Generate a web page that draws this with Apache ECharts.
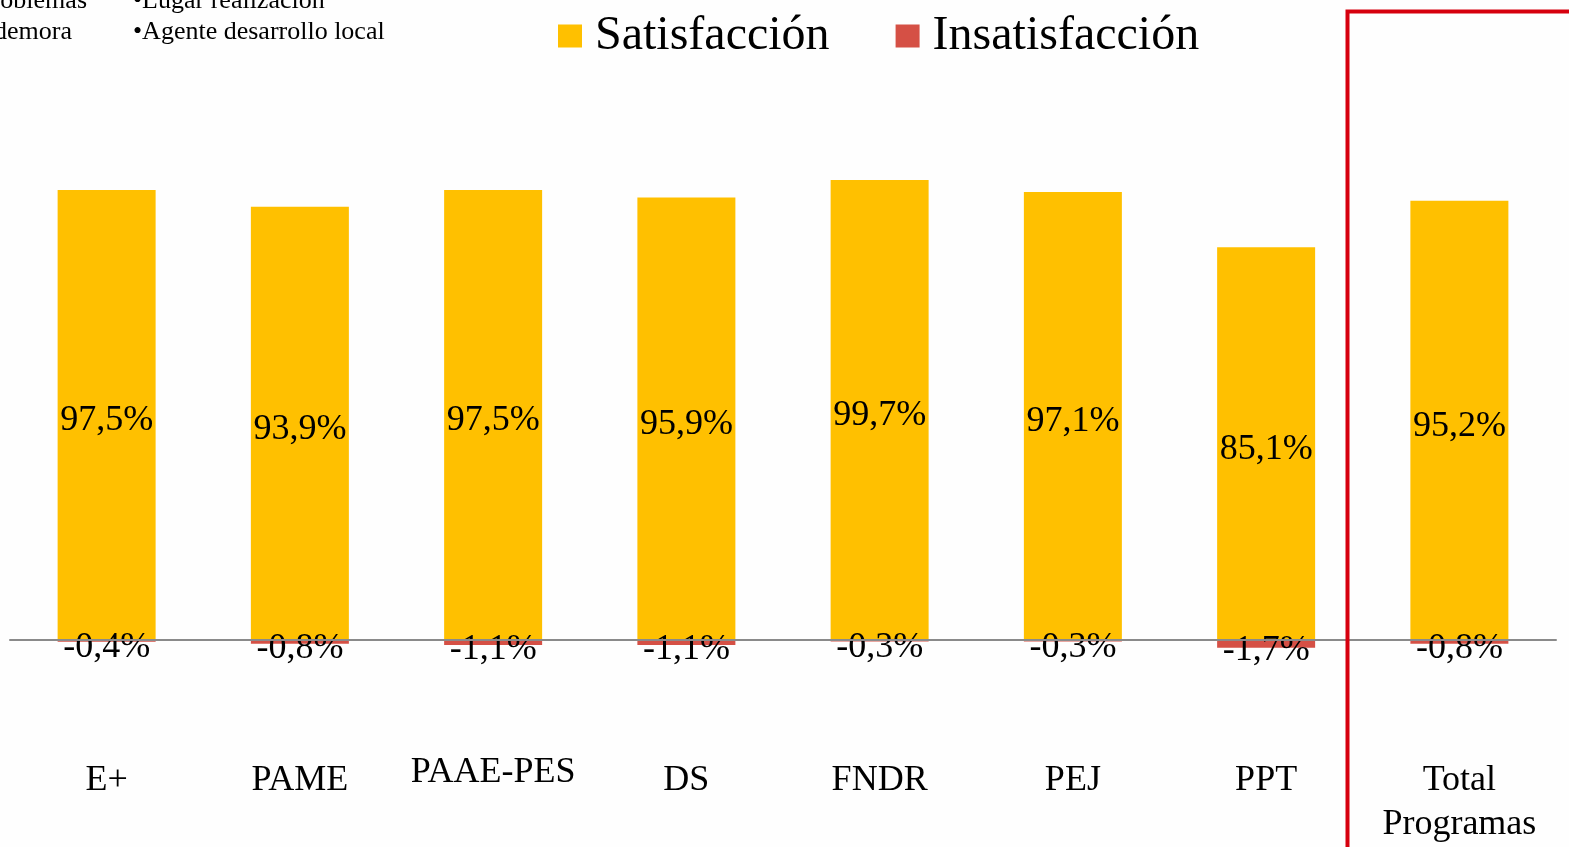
<!DOCTYPE html>
<html>
<head>
<meta charset="utf-8">
<style>
  html, body { margin: 0; padding: 0; background: #fefefe; }
  #chart { width: 1569px; height: 847px; }
</style>
<script src="https://cdn.jsdelivr.net/npm/echarts@6/dist/echarts.min.js"></script>
</head>
<body>
<div id="chart"></div>
<script>
const categories = ["E+", "PAME", "PAAE-PES", "DS", "FNDR", "PEJ", "PPT", "Total\nProgramas"];
const satisfaccion = [97.5, 93.9, 97.5, 95.9, 99.7, 97.1, 85.1, 95.2];
const insatisfaccion = [-0.4, -0.8, -1.1, -1.1, -0.3, -0.3, -1.7, -0.8];
const notesLeft = ["\u2022Problemas", "demora"];
const notesRight = ["\u2022Lugar realizaci\u00f3n", "\u2022Agente desarrollo local"];

const font = "Liberation Serif";
const fmt = (v) => v.toFixed(1).replace(".", ",") + "%";

const chart = echarts.init(document.getElementById("chart"));

const option = {
  backgroundColor: "#fefefe",
  animation: false,
  textStyle: { fontFamily: font },
  legend: {
    left: 558,
    top: 12,
    padding: 0,
    itemWidth: 24,
    itemHeight: 23,
    itemGap: 66,
    icon: "rect",
    data: ["Satisfacción", "Insatisfacción"],
    textStyle: {
      fontFamily: font,
      fontSize: 48,
      lineHeight: 48,
      color: "#000",
      padding: [0, 0, 0, 8],
    },
  },
  grid: { left: 10, right: 13, top: 178.5, bottom: 114.7, outerBoundsMode: "none" },
  xAxis: [
    {
      // zero line
      type: "category",
      data: categories,
      z: 10,
      axisTick: { show: false },
      axisLabel: { show: false },
      axisLine: { onZero: true, lineStyle: { color: "#8a8a8a", width: 2 } },
    },
    {
      // category names under the plot
      type: "category",
      data: categories,
      position: "bottom",
      axisTick: { show: false },
      axisLine: { show: false, onZero: false },
      axisLabel: {
        margin: 26,
        fontFamily: font,
        fontSize: 36,
        lineHeight: 44,
        color: "#000",
        interval: 0,
        formatter: (v) => (v === "PAAE-PES" ? "{p|" + v + "}" : v),
        rich: { p: { fontFamily: font, fontSize: 36, lineHeight: 28, color: "#000" } },
      },
    },
  ],
  yAxis: {
    type: "value",
    min: -20,
    max: 100,
    show: false,
    splitLine: { show: false },
  },
  series: [
    {
      name: "Satisfacción",
      type: "bar",
      stack: "total",
      barWidth: 98,
      data: satisfaccion,
      itemStyle: { color: "#ffc000" },
      label: {
        show: true,
        position: "inside",
        offset: [0, 6],
        fontFamily: font,
        fontSize: 36,
        color: "#000",
        formatter: (p) => fmt(p.value),
      },
    },
    {
      name: "Insatisfacción",
      type: "bar",
      stack: "total",
      barWidth: 98,
      data: insatisfaccion,
      itemStyle: { color: "#d55045" },
      label: {
        show: true,
        position: "inside",
        offset: [0, 7],
        fontFamily: font,
        fontSize: 36,
        color: "#000",
        formatter: (p) => fmt(p.value),
      },
    },
  ],
  graphic: [
    // clipped bullet notes at the top left
    ...notesLeft.map((t, i) => ({
      type: "text",
      x: [87, 72][i],
      y: 1 + i * 31,
      style: {
        text: t,
        font: "26px " + font,
        fill: "#000",
        textAlign: "right",
        textVerticalAlign: "middle",
      },
    })),
    ...notesRight.map((t, i) => ({
      type: "text",
      x: 133,
      y: 1 + i * 31,
      style: {
        text: t,
        font: "26px " + font,
        fill: "#000",
        textAlign: "left",
        textVerticalAlign: "middle",
      },
    })),
    // red frame around the total
    {
      type: "rect",
      z: 20,
      shape: { x: 1347.5, y: 11.5, width: 300, height: 900 },
      style: { fill: null, stroke: "#d6000e", lineWidth: 4 },
    },
  ],
};

chart.setOption(option);
</script>
</body>
</html>
